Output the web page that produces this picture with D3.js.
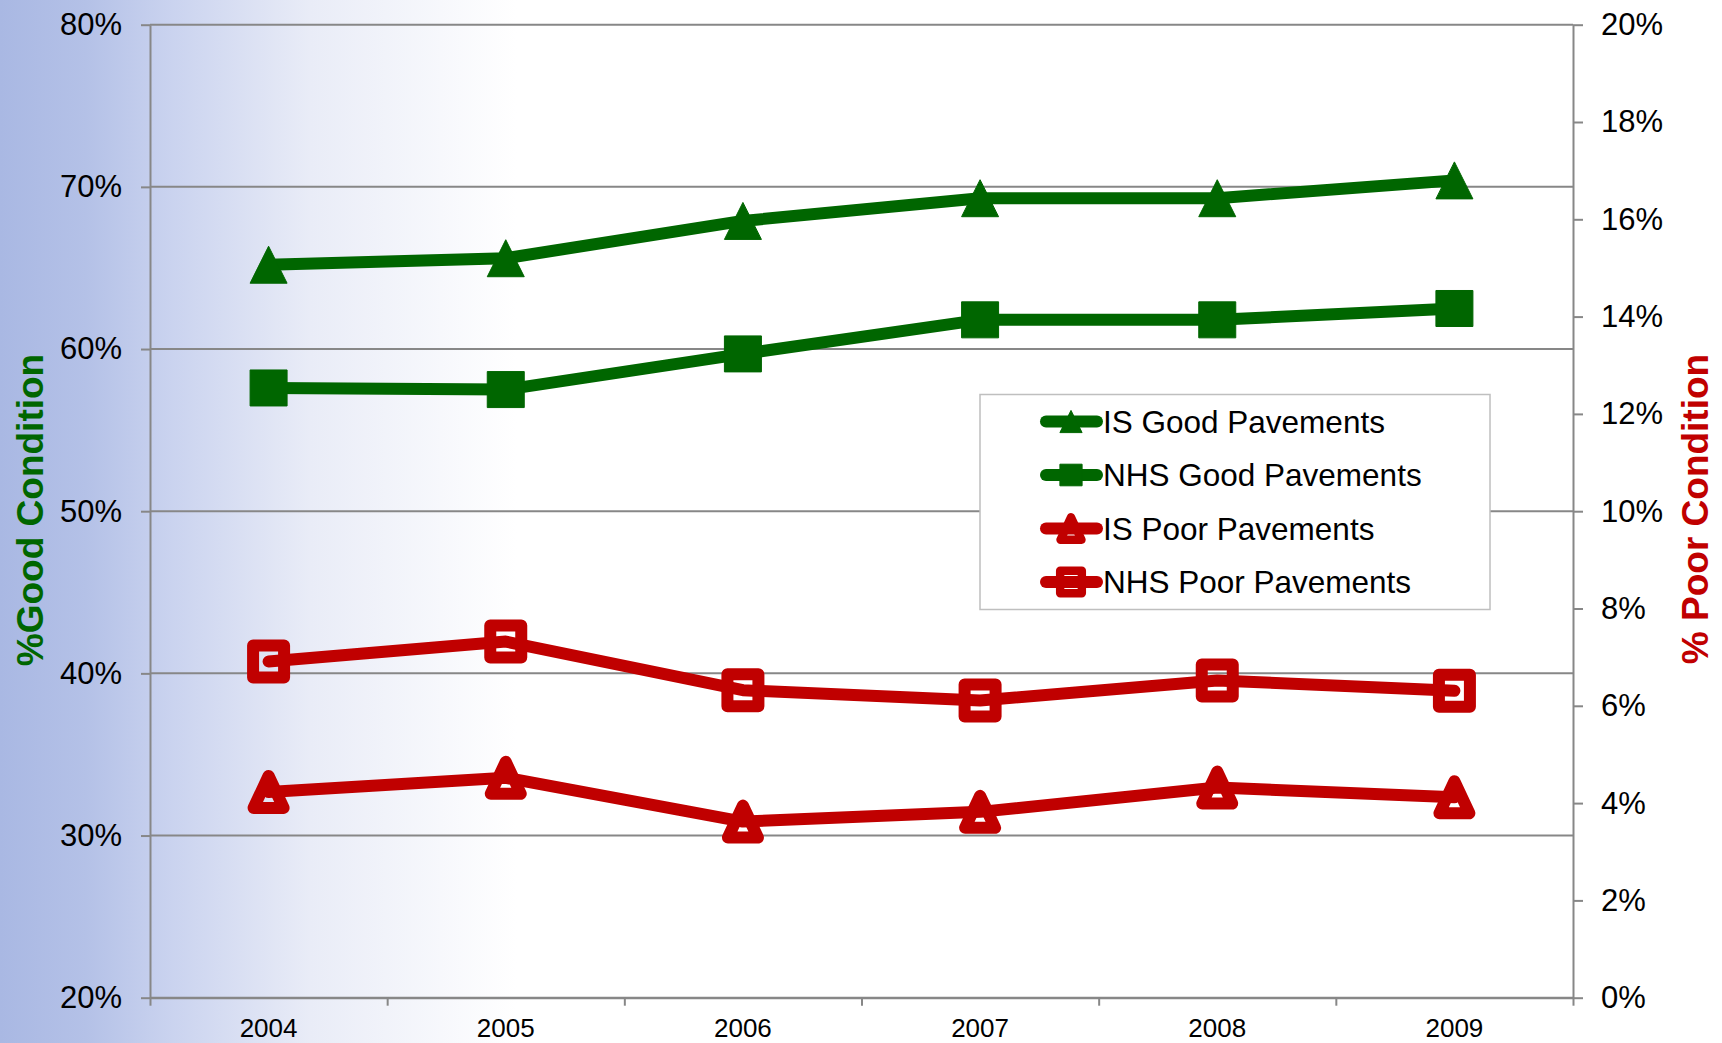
<!DOCTYPE html>
<html>
<head>
<meta charset="utf-8">
<script src="https://cdn.jsdelivr.net/npm/d3@7"></script>
<style>
  html, body { margin: 0; padding: 0; }
  body { width: 1722px; height: 1043px; overflow: hidden; font-family: "Liberation Sans", Arial, sans-serif; }
</style>
</head>
<body>
<svg id="chart" width="1722" height="1043"></svg>
<script>
// pavement condition, % of lane miles
const years = ['2004', '2005', '2006', '2007', '2008', '2009'];
const isGood = [65.2, 65.6, 67.9, 69.3, 69.3, 70.4];
const nhsGood = [57.6, 57.5, 59.7, 61.8, 61.8, 62.5];
const isPoor = [4.23, 4.52, 3.62, 3.82, 4.32, 4.12];
const nhsPoor = [6.91, 7.32, 6.32, 6.11, 6.52, 6.31];
const leftTicks = [20, 30, 40, 50, 60, 70, 80];
const rightTicks = [0, 2, 4, 6, 8, 10, 12, 14, 16, 18, 20];

const GREEN = '#006600';
const RED = '#C00000';
const AXIS = '#878787';

const svg = d3.select('#chart');

// slide background
const grad = svg.append('defs').append('linearGradient')
  .attr('id', 'bg').attr('x1', 0).attr('x2', 1).attr('y1', 0).attr('y2', 0);
grad.append('stop').attr('offset', 0).attr('stop-color', '#A9B8E3');
grad.append('stop').attr('offset', 0.05).attr('stop-color', '#B4C1E7');
grad.append('stop').attr('offset', 0.1).attr('stop-color', '#CAD3EF');
grad.append('stop').attr('offset', 0.18).attr('stop-color', '#E9ECF7');
grad.append('stop').attr('offset', 0.3).attr('stop-color', '#FFFFFF');
svg.append('rect').attr('width', 1722).attr('height', 1043).attr('fill', 'url(#bg)');

const plotL = 150, plotR = 1573, plotT = 24.7, plotB = 997.7;

const x = d3.scaleBand().domain(years).range([plotL, plotR]);
const cx = d => x(d) + x.bandwidth() / 2;
const yL = d3.scaleLinear().domain([20, 80]).range([plotB, plotT]);
const yR = d3.scaleLinear().domain([0, 20]).range([plotB, plotT]);

// gridlines
svg.append('g').selectAll('line').data(leftTicks).join('line')
  .attr('x1', plotL).attr('x2', plotR)
  .attr('y1', d => yL(d)).attr('y2', d => yL(d))
  .attr('stroke', AXIS).attr('stroke-width', 2);

const styleAxis = (g, size) => {
  g.select('.domain').attr('stroke', AXIS).attr('stroke-width', 2);
  g.selectAll('.tick line').attr('stroke', AXIS).attr('stroke-width', 2);
  g.selectAll('text').attr('font-family', '"Liberation Sans", Arial, sans-serif')
    .attr('font-size', size).attr('fill', '#000');
};

svg.append('g').attr('transform', `translate(${plotL},0)`)
  .call(d3.axisLeft(yL).tickValues(leftTicks).tickFormat(d => d + '%').tickSize(9).tickSizeOuter(0).tickPadding(19))
  .call(g => styleAxis(g, 31));

svg.append('g').attr('transform', `translate(${plotR},0)`)
  .call(d3.axisRight(yR).tickValues(rightTicks).tickFormat(d => d + '%').tickSize(10).tickSizeOuter(0).tickPadding(18))
  .call(g => styleAxis(g, 31));

// category boundary ticks
const xb = d3.scaleLinear().domain([0, years.length]).range([plotL, plotR]);
svg.append('g').attr('transform', `translate(0,${plotB})`)
  .call(d3.axisBottom(xb).ticks(years.length).tickFormat('').tickSize(8).tickSizeOuter(0))
  .call(g => styleAxis(g, 26));

svg.append('g').attr('transform', `translate(0,${plotB})`)
  .call(d3.axisBottom(x).tickSize(0).tickPadding(20.5))
  .call(g => { styleAxis(g, 26); g.select('.domain').remove(); });

// markers
const triPath = (w, h) => `M0,${-h / 2}L${w / 2},${h / 2}L${-w / 2},${h / 2}Z`;
const sqPath = (w, h) => `M${-w / 2},${-h / 2}H${w / 2}V${h / 2}H${-w / 2}Z`;

const series = [
  { name: 'IS Good Pavements', values: isGood, y: yL, color: GREEN, shape: 'tri', hollow: false },
  { name: 'NHS Good Pavements', values: nhsGood, y: yL, color: GREEN, shape: 'sq', hollow: false },
  { name: 'IS Poor Pavements', values: isPoor, y: yR, color: RED, shape: 'tri', hollow: true },
  { name: 'NHS Poor Pavements', values: nhsPoor, y: yR, color: RED, shape: 'sq', hollow: true }
];

const markerPath = (s, k) => {
  if (s.hollow) return s.shape === 'tri' ? triPath(30 * k, 32 * k) : sqPath(31 * k, 32 * k);
  return s.shape === 'tri' ? triPath(37 * k, 37 * k) : sqPath(37 * k, 36 * k);
};

const styleMarker = (sel, s, k) => sel
  .attr('d', markerPath(s, k))
  .attr('fill', s.hollow ? 'none' : s.color)
  .attr('stroke', s.color)
  .attr('stroke-width', s.hollow ? 12 * k : 1)
  .attr('stroke-linejoin', 'round');

const line = d3.line();
series.forEach(s => {
  const pts = s.values.map((v, i) => [cx(years[i]), s.y(v)]);
  const g = svg.append('g');
  g.append('path').attr('d', line(pts))
    .attr('fill', 'none').attr('stroke', s.color).attr('stroke-width', 12)
    .attr('stroke-linecap', 'round').attr('stroke-linejoin', 'round');
  g.selectAll('path.mk').data(pts).join('path').attr('class', 'mk')
    .attr('transform', d => `translate(${d[0]},${d[1]})`)
    .call(sel => styleMarker(sel, s, 1));
});

// legend
const lg = svg.append('g');
lg.append('rect').attr('x', 980).attr('y', 394.5).attr('width', 510).attr('height', 215)
  .attr('fill', '#fff').attr('stroke', '#BFBFBF').attr('stroke-width', 1.5);
series.forEach((s, i) => {
  const ry = 421.5 + i * 53.5;
  lg.append('line').attr('x1', 1046).attr('x2', 1097).attr('y1', ry).attr('y2', ry)
    .attr('stroke', s.color).attr('stroke-width', 12).attr('stroke-linecap', 'round');
  lg.append('path').attr('transform', `translate(1071,${ry})`)
    .call(sel => styleMarker(sel, s, s.hollow ? 0.7 : 0.6));
  lg.append('text').attr('x', 1103).attr('y', ry).attr('dy', '0.36em')
    .attr('font-size', 31.5).attr('fill', '#000').text(s.name);
});

// axis titles
svg.append('text').attr('transform', 'translate(43,510) rotate(-90)')
  .attr('text-anchor', 'middle').attr('font-size', 37).attr('font-weight', 'bold')
  .attr('fill', GREEN).text('%Good Condition');
svg.append('text').attr('transform', 'translate(1708,509) rotate(-90)')
  .attr('text-anchor', 'middle').attr('font-size', 37).attr('font-weight', 'bold')
  .attr('fill', RED).text('% Poor Condition');
</script>
</body>
</html>
